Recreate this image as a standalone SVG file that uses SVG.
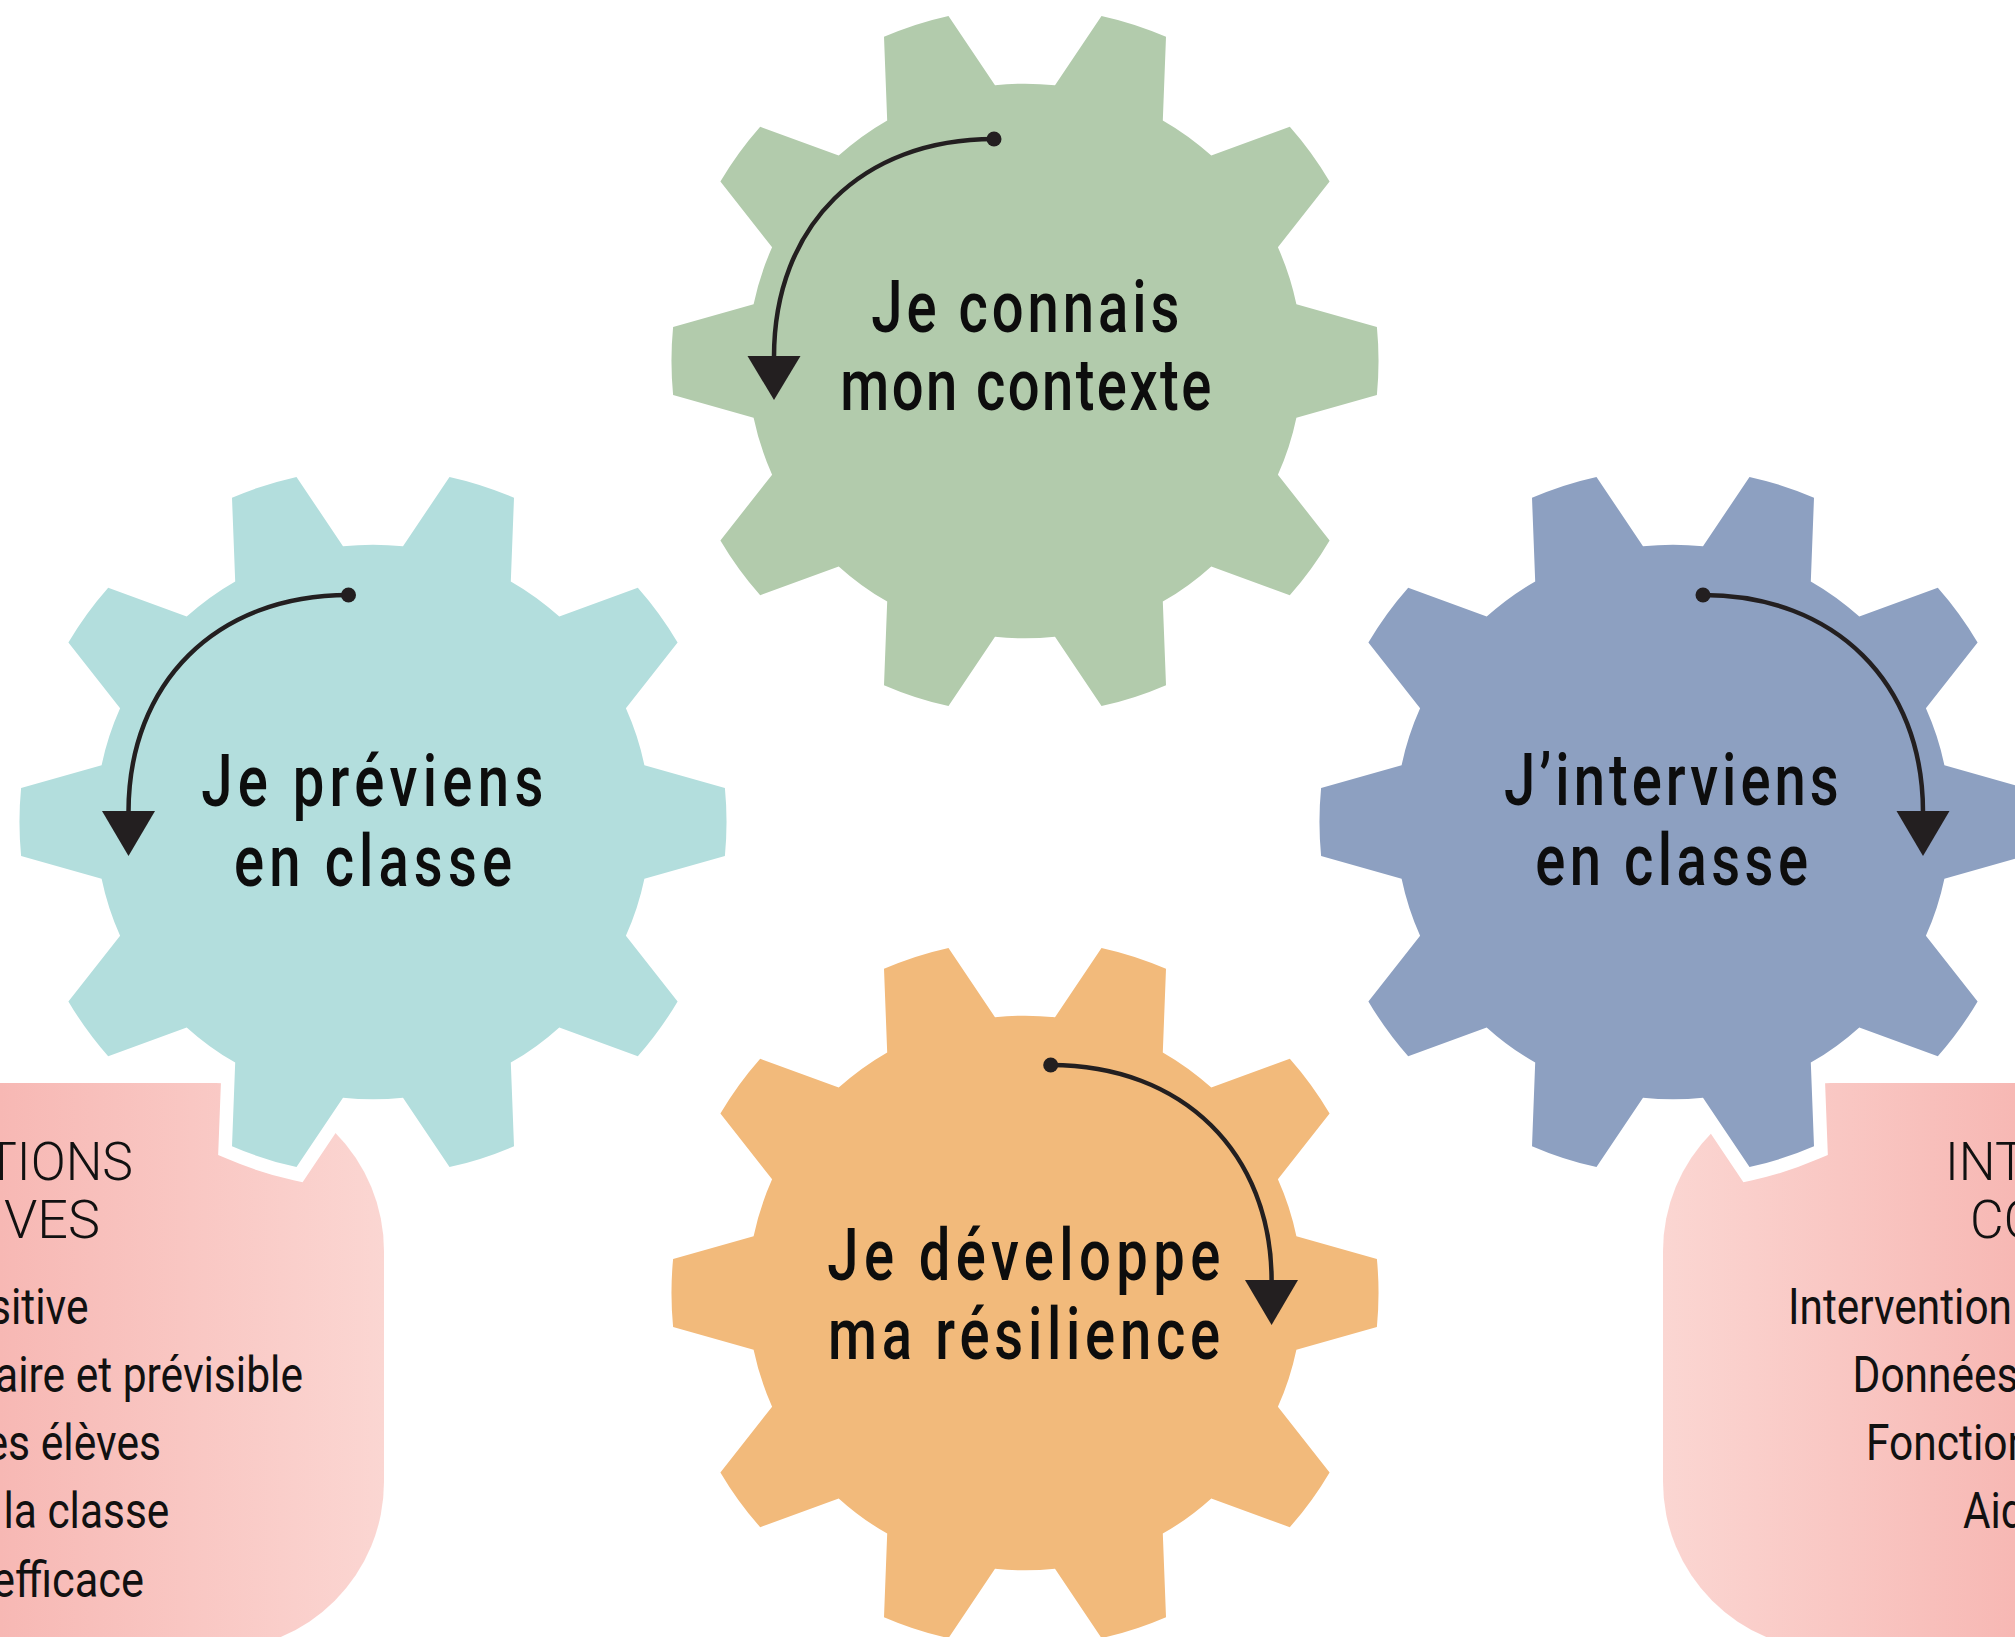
<svg xmlns="http://www.w3.org/2000/svg" width="2015" height="1637" viewBox="0 0 2015 1637">
<style>
.gear{stroke:#fff;stroke-width:27;stroke-linejoin:miter;paint-order:stroke}
.lbl{font-family:Roboto,"Liberation Sans",sans-serif;font-weight:500;font-size:72px;fill:#0d0d0d}
.head{font-family:Roboto,"Liberation Sans",sans-serif;font-weight:300;font-size:54px;fill:#111}
.item{font-family:Roboto,"Liberation Sans",sans-serif;font-weight:400;font-size:50px;fill:#111}
.arc{fill:none;stroke:#231f20;stroke-width:4.5}
.tri{fill:#231f20}
</style>
<defs>
<path id="gearShape" d="M351.9,-33.9 A353.5,353.5 0 0 1 351.9,33.9 L271.4,56.7 A277.3,277.3 0 0 1 252.9,113.7 L304.6,179.4 A353.5,353.5 0 0 1 264.8,234.2 L186.3,205.4 A277.3,277.3 0 0 1 137.8,240.6 L141,324.2 A353.5,353.5 0 0 1 76.5,345.1 L30,275.7 A277.3,277.3 0 0 1 -30,275.7 L-76.5,345.1 A353.5,353.5 0 0 1 -141,324.2 L-137.8,240.6 A277.3,277.3 0 0 1 -186.3,205.4 L-264.8,234.2 A353.5,353.5 0 0 1 -304.6,179.4 L-252.9,113.7 A277.3,277.3 0 0 1 -271.4,56.7 L-351.9,33.9 A353.5,353.5 0 0 1 -351.9,-33.9 L-271.4,-56.7 A277.3,277.3 0 0 1 -252.9,-113.7 L-304.6,-179.4 A353.5,353.5 0 0 1 -264.8,-234.2 L-186.3,-205.4 A277.3,277.3 0 0 1 -137.8,-240.6 L-141,-324.2 A353.5,353.5 0 0 1 -76.5,-345.1 L-30,-275.7 A277.3,277.3 0 0 1 30,-275.7 L76.5,-345.1 A353.5,353.5 0 0 1 141,-324.2 L137.8,-240.6 A277.3,277.3 0 0 1 186.3,-205.4 L264.8,-234.2 A353.5,353.5 0 0 1 304.6,-179.4 L252.9,-113.7 A277.3,277.3 0 0 1 271.4,-56.7 Z"/>
<linearGradient id="pinkL" gradientUnits="userSpaceOnUse" x1="0" y1="0" x2="384" y2="0">
<stop offset="0" stop-color="#f7b8b4"/><stop offset="1" stop-color="#fbd6d2"/>
</linearGradient>
<linearGradient id="pinkR" gradientUnits="userSpaceOnUse" x1="1663" y1="0" x2="2015" y2="0">
<stop offset="0" stop-color="#fbd6d2"/><stop offset="1" stop-color="#f7b8b4"/>
</linearGradient>
</defs>
<rect width="2015" height="1637" fill="#fff"/>

<g id="preventive-box">
<rect x="-250" y="1083" width="634" height="567" rx="168" ry="168" fill="url(#pinkL)"/>
<text class="head" x="-14" y="1180" textLength="147" lengthAdjust="spacingAndGlyphs">TIONS</text>
<text class="head" x="4" y="1238" textLength="96" lengthAdjust="spacingAndGlyphs">VES</text>
<text class="item" x="-11" y="1324" textLength="99.5" lengthAdjust="spacingAndGlyphs">sitive</text>
<text class="item" x="-5" y="1392" textLength="308" lengthAdjust="spacingAndGlyphs">aire et prévisible</text>
<text class="item" x="-14.5" y="1460" textLength="175.5" lengthAdjust="spacingAndGlyphs">es élèves</text>
<text class="item" x="3.5" y="1528" textLength="165.8" lengthAdjust="spacingAndGlyphs">la classe</text>
<text class="item" x="-8" y="1597" textLength="152" lengthAdjust="spacingAndGlyphs">efficace</text>
</g>

<g id="corrective-box">
<rect x="1663" y="1083" width="634" height="567" rx="168" ry="168" fill="url(#pinkR)"/>
<text class="head" x="1945" y="1180" textLength="81" lengthAdjust="spacingAndGlyphs">INT</text>
<text class="head" x="1970" y="1238" textLength="68.7" lengthAdjust="spacingAndGlyphs">CO</text>
<text class="item" x="1788" y="1324" textLength="224" lengthAdjust="spacingAndGlyphs">Intervention</text>
<text class="item" x="1852.5" y="1392" textLength="166" lengthAdjust="spacingAndGlyphs">Données</text>
<text class="item" x="1866" y="1460" textLength="165" lengthAdjust="spacingAndGlyphs">Fonction</text>
<text class="item" x="1963" y="1528" textLength="61.6" lengthAdjust="spacingAndGlyphs">Aid</text>
</g>

<g id="gear-contexte">
<use href="#gearShape" class="gear" transform="translate(1025,361)" fill="#b2cbac"/>
<text class="lbl" transform="translate(871.3,331.7) scale(0.78,1)" x="0" y="0" textLength="394.9" lengthAdjust="spacing">Je connais</text>
<text class="lbl" transform="translate(840.3,410) scale(0.78,1)" x="0" y="0" textLength="475.6" lengthAdjust="spacing">mon contexte</text>
</g>

<g id="gear-previens">
<use href="#gearShape" class="gear" transform="translate(373,822)" fill="#b3dedd"/>
<text class="lbl" transform="translate(201.3,806) scale(0.78,1)" x="0" y="0" textLength="438.5" lengthAdjust="spacing">Je préviens</text>
<text class="lbl" transform="translate(234,886) scale(0.78,1)" x="0" y="0" textLength="356.4" lengthAdjust="spacing">en classe</text>
</g>

<g id="gear-interviens">
<use href="#gearShape" class="gear" transform="translate(1673,822)" fill="#8da0c1"/>
<text class="lbl" transform="translate(1504,805) scale(0.78,1)" x="0" y="0" textLength="429.1" lengthAdjust="spacing">J’interviens</text>
<text class="lbl" transform="translate(1535.3,885.3) scale(0.78,1)" x="0" y="0" textLength="349.6" lengthAdjust="spacing">en classe</text>
</g>

<g id="gear-resilience">
<use href="#gearShape" class="gear" transform="translate(1025,1293)" fill="#f2ba7b"/>
<text class="lbl" transform="translate(827.3,1280) scale(0.78,1)" x="0" y="0" textLength="503.8" lengthAdjust="spacing">Je développe</text>
<text class="lbl" transform="translate(828,1359.3) scale(0.78,1)" x="0" y="0" textLength="502.6" lengthAdjust="spacing">ma résilience</text>
</g>

<g id="connectors">
<path class="arc" d="M994,139 C862,139 774,225 774,357"/>
<circle cx="994" cy="139" r="7.5" fill="#231f20"/>
<path class="tri" d="M747.5,356 L800.5,356 L774,400 Z"/>

<path class="arc" d="M348.5,595 C216,595 128.5,683 128.5,812"/>
<circle cx="348.5" cy="595" r="7.5" fill="#231f20"/>
<path class="tri" d="M102,811 L155,811 L128.5,856 Z"/>

<path class="arc" d="M1703,595 C1835,595 1923,683 1923,812"/>
<circle cx="1703" cy="595" r="7.5" fill="#231f20"/>
<path class="tri" d="M1896.5,811 L1949.5,811 L1923,856 Z"/>

<path class="arc" d="M1050.7,1065 C1183,1065 1271.6,1153 1271.6,1281"/>
<circle cx="1050.7" cy="1065" r="7.5" fill="#231f20"/>
<path class="tri" d="M1245,1280 L1298,1280 L1271.6,1325 Z"/>
</g>
</svg>
